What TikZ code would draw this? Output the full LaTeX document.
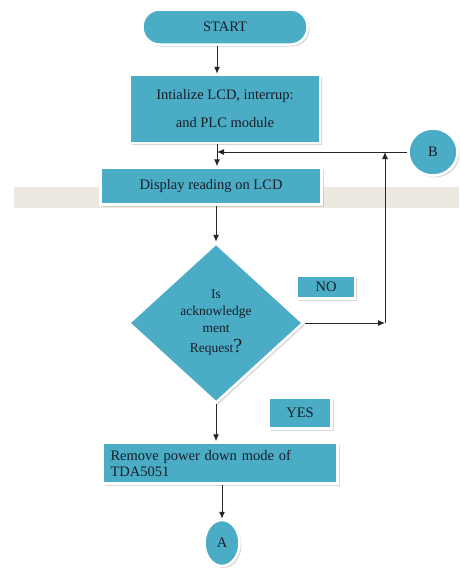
\documentclass[tikz,border=0pt]{standalone}
\usepackage{fontspec}
\setmainfont{Liberation Serif}
\usetikzlibrary{positioning,calc,arrows.meta,shapes.geometric,shadows}
\definecolor{aqua}{RGB}{75,172,198}
\definecolor{band}{RGB}{237,233,224}
\definecolor{ink}{RGB}{25,30,40}

\begin{document}
\begin{tikzpicture}[x=1pt,y=-1pt,font=\fontsize{14.5}{16}\selectfont,text=ink,
  box/.style={draw=white,line width=2.5pt,fill=aqua,inner sep=2pt,
    drop shadow={shadow xshift=2pt,shadow yshift=-2pt,fill=black!30}},
  arr/.style={-{Latex[length=7pt,width=6pt]},line width=1pt,draw=black!85}]
  \useasboundingbox (0,0) rectangle (459,570);
  % beige strip behind the display box
  \fill[band] (14,187) rectangle (459,208);

  \node[box,minimum width=165,minimum height=35,rounded corners=17pt] (start) at (225,27) {START};
  \node[box,minimum width=190,minimum height=68,align=center] (init) at (225,109)
    {Intialize LCD, interrup:\\[12pt]and PLC module};
  \node[box,minimum width=221,minimum height=37] (display) at (211,186) {Display reading on LCD};
  \node[box,ellipse,minimum width=49,minimum height=47] (B) at (433,152) {B};
  \node[box,diamond,minimum width=175,minimum height=160,align=center,
    font=\fontsize{13.5}{17}\selectfont] (dia) at (216,323)
    {Is\\acknowledge\\ment\\[3pt]Request{\fontsize{20}{20}\selectfont ?}};
  \node[box,minimum width=58,minimum height=23] (no) at (326,287) {NO};
  \node[box,minimum width=63,minimum height=31] (yes) at (300,413) {YES};
  \node[box,minimum width=235,minimum height=41,text width=219,align=left] (remove) at (220,463)
    {Remove power down mode of\\TDA5051};
  \node[box,ellipse,minimum width=35,minimum height=46] (A) at (222,543) {A};

  \coordinate (merge) at (217,152);
  \coordinate (turn) at (385,323);
  \coordinate (top) at (385,152);

  \draw[arr] (start.south -| merge) -- (init.north -| merge);
  \draw[arr] (init.south -| merge) -- (display.north -| merge);
  \draw[arr] (B.west) -- (merge);
  \draw[arr] (display.south -| dia) -- (dia.north);
  \draw[arr] (dia.east) -- (turn);
  \draw[arr] (turn) -- (top);
  \draw[arr] (dia.south) -- (remove.north -| dia.south);
  \draw[arr] (remove.south -| A) -- (A.north);
\end{tikzpicture}
\end{document}
